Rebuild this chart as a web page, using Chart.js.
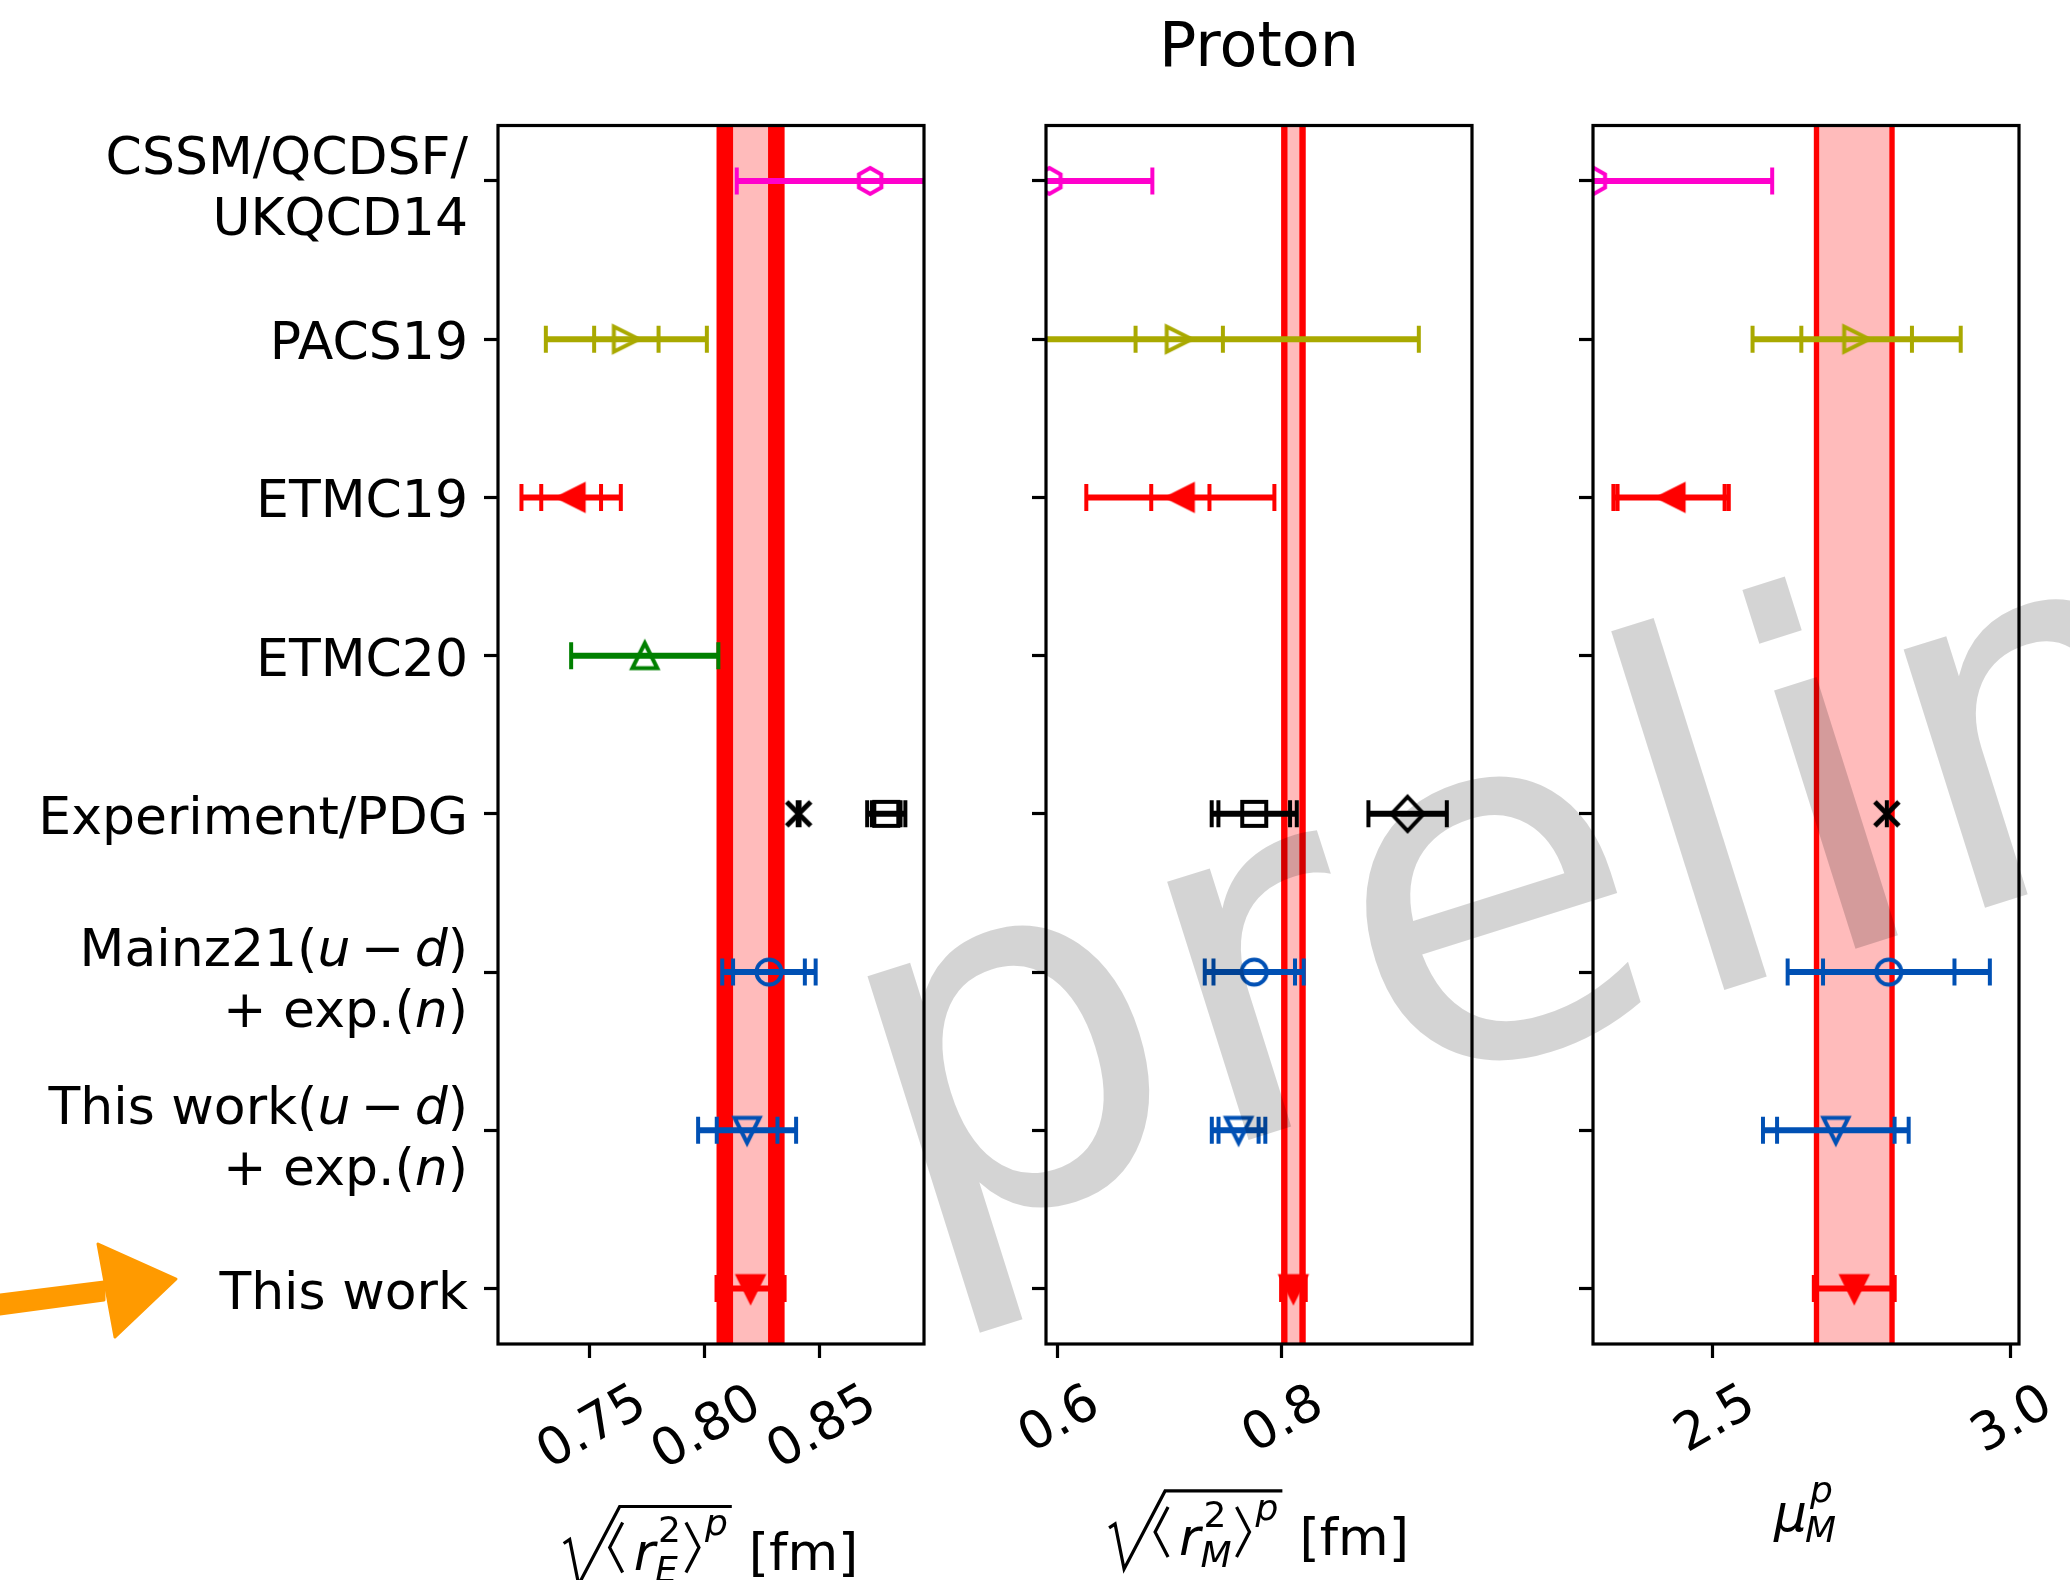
<!DOCTYPE html>
<html lang="en">
<head>
<meta charset="UTF-8">
<title>Proton: charge radius, magnetic radius, magnetic moment</title>
<script src="https://cdn.jsdelivr.net/npm/chart.js"></script>
<style>
  body { margin: 0; background: #fff; }
  #fig { position: relative; width: 2070px; height: 1580px; overflow: hidden; background: #fff; }
  #fig canvas { position: absolute; left: 0; top: 0; }
</style>
</head>
<body>
<div id="fig">
  <canvas id="panelE" width="2070" height="1580"></canvas>
  <canvas id="panelM" width="2070" height="1580"></canvas>
  <canvas id="panelMu" width="2070" height="1580"></canvas>
  <canvas id="overlay" width="2070" height="1580"></canvas>
</div>
<script>
// rows, top to bottom (_x_ = italic)
const rowLabels = [
  'CSSM/QCDSF/\nUKQCD14',
  'PACS19',
  'ETMC19',
  'ETMC20',
  'Experiment/PDG',
  'Mainz21(_u_\u2009−\u2009_d_)\n+ exp.(_n_)',
  'This work(_u_\u2009−\u2009_d_)\n+ exp.(_n_)',
  'This work'
];

// one entry per panel: r_E, r_M, mu_M
const xLimits = [[0.7102, 0.8954], [0.590, 0.9705], [2.2987, 3.015]];
const xTickValues = [[0.75, 0.80, 0.85], [0.6, 0.8], [2.5, 3.0]];
const xTickLabels = [['0.75', '0.80', '0.85'], ['0.6', '0.8'], ['2.5', '3.0']];

// results as [r_E, r_M, mu_M]; null = not available
const cssmValue = [0.872, 0.593, 2.300];
const cssmTotal = [0.058, 0.092, 0.300];

const pacsValue = [0.766, 0.709, 2.742];
const pacsStat  = [0.014, 0.039, 0.093];
const pacsTotal = [0.035, 0.214, 0.175];

const etmc19Value = [0.742, 0.710, 2.430];
const etmc19Stat  = [0.013, 0.026, 0.090];
const etmc19Total = [0.0216, 0.084, 0.097];

const etmc20Value = [0.774, null, null];
const etmc20Total = [0.032, null, null];

const muonicValue = [0.8409, null, 2.7928];
const muonicTotal = [0.0004, null, 0.00001];

const scatValue = [0.879, 0.776, null];
const scatStat  = [0.0062, 0.032, null];
const scatTotal = [0.0083, 0.038, null];

const pdgMValue = [null, 0.913, null];
const pdgMTotal = [null, 0.035, null];

const mainzValue = [0.828, 0.776, 2.796];
const mainzStat  = [0.0156, 0.0364, 0.1105];
const mainzTotal = [0.0203, 0.0442, 0.170];

const udValue = [0.8185, 0.762, 2.707];
const udStat  = [0.0132, 0.0179, 0.0988];
const udTotal = [0.0213, 0.0239, 0.1225];

// final result, also drawn as the vertical band (stat inner, total outer)
const thisValue = [0.820, 0.811, 2.738];
const thisStat  = [0.0076, 0.0053, 0.059];
const thisTotal = [0.0148, 0.011, 0.068];

const MAGENTA = '#ff00cc', OLIVE = '#a9a900', RED = '#ff0000', GREEN = '#008000', BLUE = '#0050b4', BLACK = '#000000';

const series = [
  { row: 0, value: cssmValue,   stat: null,        total: cssmTotal,   color: MAGENTA, marker: 'hexagon',  filled: false },
  { row: 1, value: pacsValue,   stat: pacsStat,    total: pacsTotal,   color: OLIVE,   marker: 'triRight', filled: false },
  { row: 2, value: etmc19Value, stat: etmc19Stat,  total: etmc19Total, color: RED,     marker: 'triLeft',  filled: true },
  { row: 3, value: etmc20Value, stat: null,        total: etmc20Total, color: GREEN,   marker: 'triUp',    filled: false },
  { row: 4, value: muonicValue, stat: null,        total: muonicTotal, color: BLACK,   marker: 'x',        filled: false },
  { row: 4, value: scatValue,   stat: scatStat,    total: scatTotal,   color: BLACK,   marker: 'square',   filled: false },
  { row: 4, value: pdgMValue,   stat: null,        total: pdgMTotal,   color: BLACK,   marker: 'diamond',  filled: false },
  { row: 5, value: mainzValue,  stat: mainzStat,   total: mainzTotal,  color: BLUE,    marker: 'circle',   filled: false },
  { row: 6, value: udValue,     stat: udStat,      total: udTotal,     color: BLUE,    marker: 'triDown',  filled: false },
  { row: 7, value: thisValue,   stat: null,        total: thisTotal,   color: RED,     marker: 'triDown',  filled: true }
];

// figure geometry
const PANEL_LEFT = [498, 1046, 1593];
const PANEL_WIDTH = 426;
const AXES_TOP = 125.5;
const AXES_BOTTOM = 1344;
const TICK_LEN = 14;
const TEXT_PX = 52;
const BAR_WIDTH = 6, CAP_WIDTH = 4, CAP_HALF = 13.5;
const MARKER_EDGE = 4;
const BAND_EDGE = '#ff0000', BAND_FILL = '#ffbbbb';

const FAMILY = '"DejaVu Sans", "Liberation Sans", sans-serif';
const font = (px, italic) => (italic ? 'oblique ' : '') + px + 'px ' + FAMILY;

// matplotlib-like marker glyphs, centred on their bounding box
function markerImage(shape, color, filled) {
  const S = 52, c = S / 2;
  const cv = document.createElement('canvas');
  cv.width = S; cv.height = S;
  const g = cv.getContext('2d');
  g.strokeStyle = color; g.fillStyle = color; g.lineWidth = MARKER_EDGE;
  g.beginPath();
  const poly = pts => { g.moveTo(c + pts[0][0], c + pts[0][1]); pts.slice(1).forEach(p => g.lineTo(c + p[0], c + p[1])); g.closePath(); };
  const a = 12.5;
  switch (shape) {
    case 'hexagon': {
      const pts = [];
      for (let k = 0; k < 6; k++) { const t = (-90 + 60 * k) * Math.PI / 180; pts.push([13 * Math.cos(t), 13 * Math.sin(t)]); }
      poly(pts); break;
    }
    case 'circle': g.arc(c, c, 12.5, 0, 2 * Math.PI); break;
    case 'square': poly([[-12, -12], [12, -12], [12, 12], [-12, 12]]); break;
    case 'diamond': poly([[0, -17], [16, 0], [0, 17], [-16, 0]]); break;
    case 'triUp': poly([[0, -a], [a, a], [-a, a]]); break;
    case 'triDown': poly([[0, a], [-a, -a], [a, -a]]); break;
    case 'triLeft': poly([[-a, 0], [a, -a], [a, a]]); break;
    case 'triRight': poly([[a, 0], [-a, -a], [-a, a]]); break;
    case 'x':
      g.lineWidth = 5;
      g.moveTo(c - 12, c - 12); g.lineTo(c + 12, c + 12);
      g.moveTo(c - 12, c + 12); g.lineTo(c + 12, c - 12);
      break;
  }
  if (filled) g.fill();
  g.stroke();
  return cv;
}

function clipToArea(ctx, a) {
  ctx.beginPath();
  ctx.rect(a.left, a.top, a.right - a.left, a.bottom - a.top);
  ctx.clip();
}

function drawBand(chart, k) {
  const ctx = chart.ctx, xs = chart.scales.x, a = chart.chartArea;
  const c = thisValue[k];
  ctx.save();
  clipToArea(ctx, a);
  const span = (e, color) => {
    const l = xs.getPixelForValue(c - e), r = xs.getPixelForValue(c + e);
    ctx.fillStyle = color;
    ctx.fillRect(l, a.top, r - l, a.bottom - a.top);
  };
  span(thisTotal[k], BAND_EDGE);
  span(thisStat[k], BAND_FILL);
  ctx.restore();
}

function drawErrorBars(chart) {
  const ctx = chart.ctx, xs = chart.scales.x, ys = chart.scales.y;
  ctx.save();
  clipToArea(ctx, chart.chartArea);
  chart.data.datasets.forEach(ds => {
    const p = ds.data[0];
    const y = ys.getPixelForValue(p.y);
    ctx.strokeStyle = ds.barColor;
    ctx.lineWidth = BAR_WIDTH;
    ctx.beginPath();
    ctx.moveTo(xs.getPixelForValue(p.x - ds.errTotal), y);
    ctx.lineTo(xs.getPixelForValue(p.x + ds.errTotal), y);
    ctx.stroke();
    const errs = [ds.errTotal];
    if (ds.errStat != null) errs.push(ds.errStat);
    ctx.lineWidth = CAP_WIDTH;
    ctx.beginPath();
    errs.forEach(e => [-e, e].forEach(d => {
      const cx = xs.getPixelForValue(p.x + d);
      ctx.moveTo(cx, y - CAP_HALF);
      ctx.lineTo(cx, y + CAP_HALF);
    }));
    ctx.stroke();
  });
  ctx.restore();
}

function drawRowLabels(chart) {
  const ctx = chart.ctx, ys = chart.scales.y;
  const right = chart.chartArea.left - TICK_LEN - 16;
  ctx.save();
  ctx.fillStyle = '#000';
  ctx.textAlign = 'left';
  ctx.textBaseline = 'alphabetic';
  rowLabels.forEach((label, i) => {
    const lines = label.split('\n');
    const yc = ys.getPixelForValue(i);
    lines.forEach((line, j) => {
      const base = yc + 20 + (j - (lines.length - 1) / 2) * 61 + (lines.length - 1) * 4;
      const parts = line.split('_').map((t, n) => ({ t: t, italic: n % 2 === 1 }));
      let w = 0;
      parts.forEach(p => { ctx.font = font(TEXT_PX, p.italic); p.w = ctx.measureText(p.t).width; w += p.w; });
      let x = right - w;
      parts.forEach(p => { ctx.font = font(TEXT_PX, p.italic); ctx.fillText(p.t, x, base); x += p.w; });
    });
  });
  ctx.restore();
}

// rotated, centred tick labels; returns the lowest ink edge
function drawXTickLabels(chart, k) {
  const ctx = chart.ctx, xs = chart.scales.x, a = chart.chartArea;
  const rot = 30 * Math.PI / 180;
  let bottom = a.bottom;
  ctx.save();
  ctx.fillStyle = '#000';
  ctx.font = font(TEXT_PX, false);
  ctx.textAlign = 'left';
  ctx.textBaseline = 'alphabetic';
  xTickValues[k].forEach((v, i) => {
    const t = xTickLabels[k][i];
    const m = ctx.measureText(t);
    const w = m.actualBoundingBoxLeft + m.actualBoundingBoxRight;
    const h = m.actualBoundingBoxAscent + m.actualBoundingBoxDescent;
    const bh = w * Math.sin(rot) + h * Math.cos(rot);
    const cx = xs.getPixelForValue(v);
    const cy = a.bottom + 36 + bh / 2;
    ctx.save();
    ctx.translate(cx, cy);
    ctx.rotate(-rot);
    ctx.fillText(t, -(m.actualBoundingBoxRight - m.actualBoundingBoxLeft) / 2,
                 -(m.actualBoundingBoxDescent - m.actualBoundingBoxAscent) / 2);
    ctx.restore();
    bottom = Math.max(bottom, cy + bh / 2);
  });
  ctx.restore();
  return bottom;
}

// sqrt(<r_X^2>^p) [fm]
function drawRadiusTitle(ctx, cx, base, sub) {
  const f = TEXT_PX, s = Math.round(TEXT_PX * 0.7);
  ctx.font = font(f, true);  const rW = ctx.measureText('r').width;
  ctx.font = font(s, false); const twoW = ctx.measureText('2').width;
  ctx.font = font(s, true);  const subW = ctx.measureText(sub).width; const pW = ctx.measureText('p').width;
  ctx.font = font(f, false); const fmW = ctx.measureText('[fm]').width;
  const radW = 44, openW = 26, closeW = 22, gap = 17;
  const scrW = Math.max(twoW + 3, subW) + 2;
  const inner = openW + rW + scrW + closeW + pW;
  const total = radW + inner + 4 + gap + fmW;
  const x = cx - total / 2;
  const c0 = x + radW;
  ctx.save();
  ctx.strokeStyle = '#000'; ctx.fillStyle = '#000';
  ctx.lineWidth = 3.2;
  ctx.lineJoin = 'miter';
  ctx.beginPath();
  ctx.moveTo(x, base - 27);
  ctx.lineTo(x + 6, base - 31);
  ctx.lineTo(c0 - 29, base + 14);
  ctx.lineTo(c0 + 12, base - 64);
  ctx.lineTo(c0 + inner + 4, base - 64);
  ctx.stroke();
  // angle brackets
  let px = c0;
  ctx.beginPath();
  ctx.moveTo(px + 15, base - 48); ctx.lineTo(px + 2, base - 23); ctx.lineTo(px + 15, base + 2);
  ctx.stroke();
  px += openW;
  ctx.textAlign = 'left'; ctx.textBaseline = 'alphabetic';
  ctx.font = font(f, true); ctx.fillText('r', px, base);
  px += rW;
  ctx.font = font(s, false); ctx.fillText('2', px + 3, base - 28);
  ctx.font = font(s, true);  ctx.fillText(sub, px, base + 12);
  px += scrW;
  ctx.beginPath();
  ctx.moveTo(px + 3, base - 48); ctx.lineTo(px + 16, base - 23); ctx.lineTo(px + 3, base + 2);
  ctx.stroke();
  px += closeW;
  ctx.font = font(s, true); ctx.fillText('p', px, base - 35);
  ctx.font = font(f, false); ctx.fillText('[fm]', c0 + inner + 4 + gap, base);
  ctx.restore();
}

// mu_M^p
function drawMomentTitle(ctx, cx, base) {
  const f = TEXT_PX, s = Math.round(TEXT_PX * 0.7);
  ctx.save();
  ctx.fillStyle = '#000';
  ctx.textAlign = 'left'; ctx.textBaseline = 'alphabetic';
  ctx.font = font(f, true); const muW = ctx.measureText('μ').width;
  ctx.font = font(s, true); const mW = ctx.measureText('M').width, pW = ctx.measureText('p').width;
  const x = cx - (muW + Math.max(mW, pW + 3)) / 2;
  ctx.font = font(f, true); ctx.fillText('μ', x, base);
  ctx.font = font(s, true);
  ctx.fillText('p', x + muW + 3, base - 29);
  ctx.fillText('M', x + muW - 2, base + 11);
  ctx.restore();
}

function panelPlugin(k) {
  return {
    id: 'panel' + k,
    beforeDatasetsDraw(chart) {
      drawBand(chart, k);
      drawErrorBars(chart);
    },
    afterDatasetsDraw(chart) {
      const ctx = chart.ctx, a = chart.chartArea;
      ctx.save();
      ctx.strokeStyle = '#000';
      ctx.lineWidth = 3.2;
      ctx.strokeRect(a.left, a.top, a.right - a.left, a.bottom - a.top);
      ctx.restore();
    },
    afterDraw(chart) {
      const ctx = chart.ctx, a = chart.chartArea;
      const mid = (a.left + a.right) / 2;
      const tickBottom = drawXTickLabels(chart, k);
      if (k === 0) drawRadiusTitle(ctx, mid, tickBottom + 101, 'E');
      if (k === 1) drawRadiusTitle(ctx, mid, tickBottom + 102, 'M');
      if (k === 2) drawMomentTitle(ctx, mid, tickBottom + 78);
      if (k === 0) drawRowLabels(chart);
      if (k === 1) {
        ctx.save();
        ctx.fillStyle = '#000';
        ctx.font = font(62, false);
        ctx.textAlign = 'center';
        ctx.textBaseline = 'alphabetic';
        ctx.fillText('Proton', mid, 66);
        ctx.restore();
      }
    }
  };
}

function makePanel(canvasId, k) {
  const datasets = series.filter(s => s.value[k] != null).map(s => ({
    data: [{ x: s.value[k], y: s.row }],
    pointStyle: markerImage(s.marker, s.color, s.filled),
    pointRadius: 14,
    pointHoverRadius: 14,
    clip: 0,
    errTotal: s.total[k],
    errStat: s.stat ? s.stat[k] : null,
    barColor: s.color
  }));
  const tickGrid = { display: true, drawOnChartArea: false, drawTicks: true, tickLength: TICK_LEN, tickWidth: 3.2, tickColor: '#000' };
  return new Chart(document.getElementById(canvasId), {
    type: 'scatter',
    data: { datasets: datasets },
    options: {
      responsive: false,
      animation: false,
      events: [],
      layout: {
        autoPadding: false,
        padding: {
          left: PANEL_LEFT[k] - TICK_LEN,
          right: 2070 - PANEL_LEFT[k] - PANEL_WIDTH,
          top: AXES_TOP,
          bottom: 1580 - AXES_BOTTOM - TICK_LEN
        }
      },
      plugins: { legend: { display: false }, tooltip: { enabled: false }, title: { display: false } },
      scales: {
        x: {
          type: 'linear', position: 'bottom',
          min: xLimits[k][0], max: xLimits[k][1],
          afterBuildTicks: sc => { sc.ticks = xTickValues[k].map(v => ({ value: v })); },
          afterFit: sc => { sc.height = TICK_LEN; },
          ticks: { display: false },
          grid: tickGrid,
          border: { display: false }
        },
        y: {
          type: 'linear', position: 'left', reverse: true,
          min: -0.35, max: rowLabels.length - 1 + 0.35,
          afterBuildTicks: sc => { sc.ticks = rowLabels.map((_, i) => ({ value: i })); },
          afterFit: sc => { sc.width = TICK_LEN; },
          ticks: { display: false },
          grid: tickGrid,
          border: { display: false }
        }
      }
    },
    plugins: [panelPlugin(k)]
  });
}

makePanel('panelE', 0);
makePanel('panelM', 1);
makePanel('panelMu', 2);

// watermark and pointer arrow on top of everything
const ov = document.getElementById('overlay').getContext('2d');
ov.save();
ov.translate(906, 1248);
ov.rotate(-17.5 * Math.PI / 180);
ov.font = font(495, false);
ov.fillStyle = 'rgba(0, 0, 0, 0.17)';
ov.textBaseline = 'alphabetic';
ov.fillText('preliminary', 0, 0);
ov.restore();

ov.save();
ov.fillStyle = '#ff9a00';
ov.strokeStyle = '#ff9a00';
ov.lineWidth = 3;
ov.lineJoin = 'round';
ov.beginPath();
ov.moveTo(0, 1295); ov.lineTo(104, 1282); ov.lineTo(104, 1300); ov.lineTo(0, 1314);
ov.closePath();
ov.fill(); ov.stroke();
ov.beginPath();
ov.moveTo(98, 1244); ov.lineTo(176, 1279); ov.lineTo(115, 1337);
ov.closePath();
ov.fill(); ov.stroke();
ov.restore();
</script>
</body>
</html>
